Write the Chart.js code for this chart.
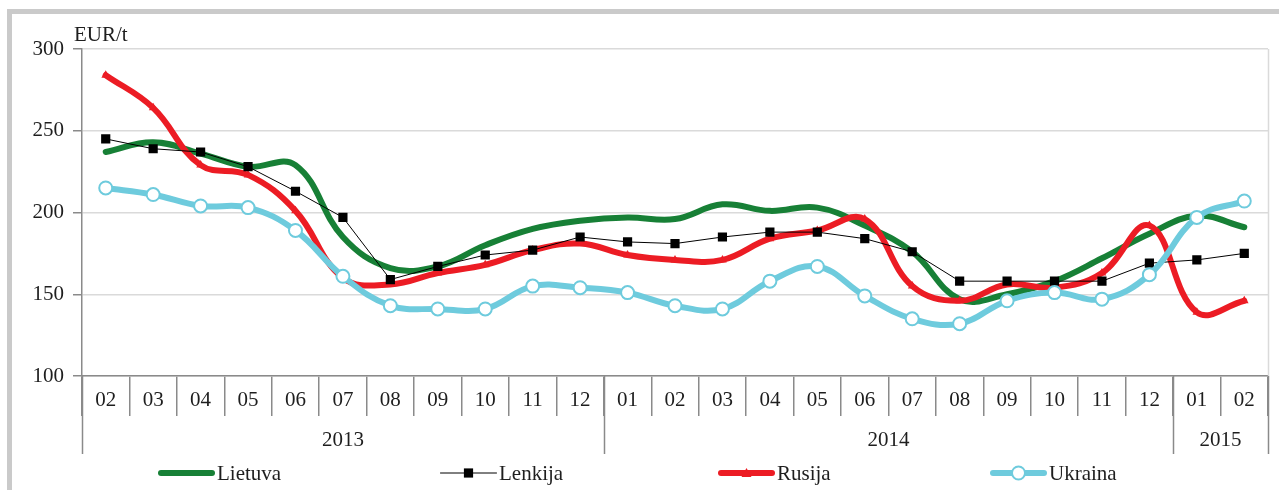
<!DOCTYPE html>
<html>
<head>
<meta charset="utf-8">
<script src="https://cdn.jsdelivr.net/npm/chart.js@4.4.1/dist/chart.umd.min.js"></script>
<style>
  html, body { margin: 0; padding: 0; background: #fff; }
  #wrap { width: 1279px; height: 490px; position: relative; }
</style>
</head>
<body>
<div id="wrap"><canvas id="grafikas" width="1279" height="490"></canvas></div>
<script>
// Mėnesiai (x ašis) ir metų grupės
const menesiai = ['02','03','04','05','06','07','08','09','10','11','12',
                  '01','02','03','04','05','06','07','08','09','10','11','12',
                  '01','02'];
const metai = ['2013', '2014', '2015'];
const metuIlgiai = [11, 12, 2];

// Kainos, EUR/t
const lietuva = [237, 243, 236, 228, 229, 185, 166, 167, 180, 190, 195,
                 197, 196, 205, 201, 203, 192, 176, 147, 150, 158, 172, 187,
                 198, 191];
const lenkija = [245, 239, 237, 228, 213, 197, 159, 167, 174, 177, 185,
                 182, 181, 185, 188, 188, 184, 176, 158, 158, 158, 158, 169,
                 171, 175];
const rusija  = [284, 264, 229, 223, 201, 160, 156, 163, 168, 177, 181,
                 174, 171, 171, 184, 189, 196, 155, 146, 156, 154, 163, 192,
                 139, 146];
const ukraina = [215, 211, 204, 203, 189, 161, 143, 141, 141, 155, 154,
                 151, 143, 141, 158, 167, 149, 135, 132, 146, 151, 147, 162,
                 197, 207];

const yTicks = [100, 150, 200, 250, 300];

const SRIFTAS = 'Liberation Serif, Times New Roman, serif';
const DYDIS = 21;
const TEKSTAS = '#1e1e1e';
const ASIS = '#8a8a8a';
const TINKLELIS = '#dadada';

Chart.defaults.font.family = SRIFTAS;
Chart.defaults.font.size = DYDIS;
Chart.defaults.color = TEKSTAS;

// Rėmelis, EUR/t, metų žymės, dešinys kraštas ir legenda
const papildomai = {
  id: 'papildomai',
  beforeDraw(chart) {
    const ctx = chart.ctx;
    ctx.save();
    ctx.fillStyle = '#ffffff';
    ctx.fillRect(0, 0, chart.width, chart.height);
    ctx.fillStyle = '#cacaca';
    ctx.fillRect(7, 9, chart.width - 7, 5);
    ctx.fillRect(7, 9, 5, chart.height - 9);
    ctx.restore();
  },
  afterDraw(chart) {
    const ctx = chart.ctx;
    const x = chart.scales.x;
    const area = chart.chartArea;
    ctx.save();

    // dešinysis ploto kraštas
    ctx.strokeStyle = TINKLELIS;
    ctx.lineWidth = 1.5;
    ctx.beginPath();
    ctx.moveTo(area.right + 0.5, area.top);
    ctx.lineTo(area.right + 0.5, area.bottom);
    ctx.stroke();

    // EUR/t
    ctx.fillStyle = TEKSTAS;
    ctx.font = DYDIS + 'px ' + SRIFTAS;
    ctx.textAlign = 'left';
    ctx.textBaseline = 'middle';
    ctx.fillText('EUR/t', area.left - 8, area.top - 14);

    // metų grupės
    const apacia = area.bottom + 78;
    let pradzia = 0;
    ctx.strokeStyle = ASIS;
    ctx.lineWidth = 1.5;
    for (let g = 0; g <= metai.length; g++) {
      const px = Math.round(x.getPixelForValue(pradzia - 0.5)) + 0.5;
      ctx.beginPath();
      ctx.moveTo(px, area.bottom);
      ctx.lineTo(px, apacia);
      ctx.stroke();
      if (g < metai.length) {
        const galas = pradzia + metuIlgiai[g];
        const x1 = x.getPixelForValue(pradzia - 0.5);
        const x2 = x.getPixelForValue(galas - 0.5);
        ctx.textAlign = 'center';
        ctx.fillText(metai[g], (x1 + x2) / 2, area.bottom + 64);
        pradzia = galas;
      }
    }

    // legenda
    const legX = [158, 440, 718, 990];
    const legY = 473;
    chart.data.datasets.forEach((ds, i) => {
      const x0 = legX[i];
      const x1 = x0 + 57;
      ctx.strokeStyle = ds.borderColor;
      ctx.lineWidth = ds.borderWidth;
      ctx.lineCap = 'round';
      ctx.beginPath();
      ctx.moveTo(x0 + ds.borderWidth / 2, legY);
      ctx.lineTo(x1 - ds.borderWidth / 2, legY);
      ctx.stroke();
      const cx = (x0 + x1) / 2;
      if (ds.pointStyle === 'rect' && ds.pointRadius > 0) {
        const s = ds.pointRadius * Math.SQRT1_2;
        ctx.fillStyle = ds.pointBackgroundColor;
        ctx.fillRect(cx - s, legY - s, 2 * s, 2 * s);
      } else if (ds.pointStyle === 'circle' && ds.pointRadius > 0) {
        ctx.fillStyle = ds.pointBackgroundColor;
        ctx.strokeStyle = ds.pointBorderColor;
        ctx.lineWidth = ds.pointBorderWidth;
        ctx.beginPath();
        ctx.arc(cx, legY, ds.pointRadius, 0, Math.PI * 2);
        ctx.fill();
        ctx.stroke();
      } else if (ds.pointStyle === 'triangle' && ds.pointRadius > 0) {
        const r = ds.pointRadius;
        ctx.fillStyle = ds.pointBackgroundColor;
        ctx.beginPath();
        ctx.moveTo(cx, legY - r);
        ctx.lineTo(cx + r, legY + r * 0.8);
        ctx.lineTo(cx - r, legY + r * 0.8);
        ctx.closePath();
        ctx.fill();
      }
      ctx.fillStyle = TEKSTAS;
      ctx.font = DYDIS + 'px ' + SRIFTAS;
      ctx.textAlign = 'left';
      ctx.textBaseline = 'middle';
      ctx.fillText(ds.label, x1 + 2, legY + 1);
    });
    ctx.restore();
  }
};

new Chart(document.getElementById('grafikas'), {
  type: 'line',
  data: {
    labels: menesiai,
    datasets: [
      {
        label: 'Lietuva',
        data: lietuva,
        borderColor: '#178036',
        borderWidth: 6,
        tension: 0.4,
        pointRadius: 0,
        pointStyle: false,
        borderCapStyle: 'round',
        borderJoinStyle: 'round',
        order: 4
      },
      {
        label: 'Lenkija',
        data: lenkija,
        borderColor: '#000000',
        borderWidth: 1,
        tension: 0,
        pointStyle: 'rect',
        pointRadius: 6.5,
        pointBackgroundColor: '#000000',
        pointBorderColor: '#000000',
        pointBorderWidth: 0,
        order: 2
      },
      {
        label: 'Rusija',
        data: rusija,
        borderColor: '#ec1c24',
        borderWidth: 6,
        tension: 0.4,
        pointStyle: 'triangle',
        pointRadius: 5,
        pointBackgroundColor: '#ec1c24',
        pointBorderColor: '#ec1c24',
        pointBorderWidth: 0,
        borderCapStyle: 'round',
        borderJoinStyle: 'round',
        order: 3
      },
      {
        label: 'Ukraina',
        data: ukraina,
        borderColor: '#6ecbdd',
        borderWidth: 6,
        tension: 0.4,
        pointStyle: 'circle',
        pointRadius: 6.5,
        pointBackgroundColor: '#ffffff',
        pointBorderColor: '#6ecbdd',
        pointBorderWidth: 2,
        borderCapStyle: 'round',
        borderJoinStyle: 'round',
        order: 1
      }
    ]
  },
  options: {
    responsive: false,
    animation: false,
    devicePixelRatio: 1,
    layout: { padding: { top: 49, right: 11, left: 0, bottom: 0 } },
    plugins: {
      legend: { display: false },
      tooltip: { enabled: false }
    },
    scales: {
      x: {
        type: 'category',
        offset: true,
        grid: {
          offset: true,
          drawOnChartArea: false,
          drawTicks: true,
          tickLength: 40,
          color: ASIS,
          tickColor: ASIS,
          lineWidth: 1.5
        },
        border: { color: ASIS, width: 1.5 },
        ticks: {
          autoSkip: false,
          maxRotation: 0,
          minRotation: 0,
          padding: -28,
          color: TEKSTAS,
          font: { size: DYDIS, family: SRIFTAS }
        },
        afterFit(scale) { scale.height = 114; }
      },
      y: {
        min: 100,
        max: 300,
        afterBuildTicks(scale) {
          scale.ticks = yTicks.map(v => ({ value: v }));
        },
        grid: {
          color: TINKLELIS,
          lineWidth: 1.5,
          drawTicks: true,
          tickLength: 9,
          tickColor: ASIS
        },
        border: { color: ASIS, width: 1.5 },
        ticks: {
          padding: 9,
          color: TEKSTAS,
          font: { size: DYDIS, family: SRIFTAS }
        },
        afterFit(scale) { scale.width = 82; }
      }
    }
  },
  plugins: [papildomai]
});
</script>
</body>
</html>
